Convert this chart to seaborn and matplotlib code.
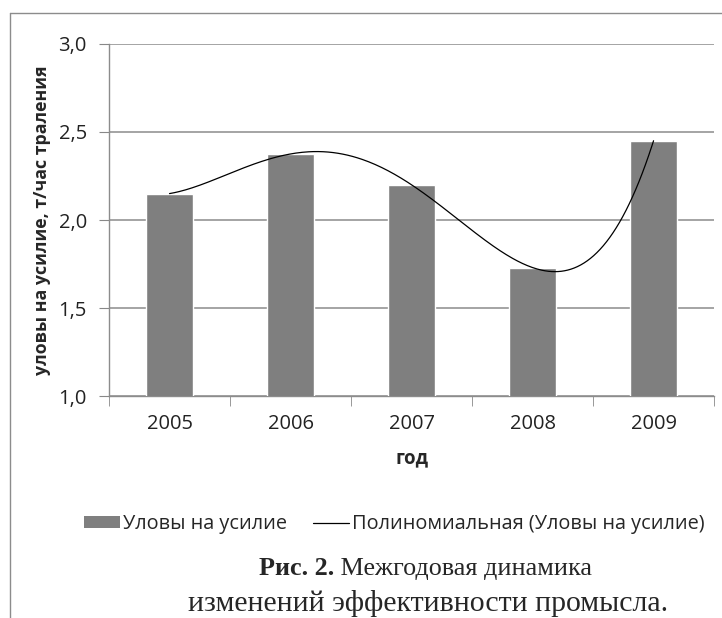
import matplotlib
matplotlib.use("Agg")
import matplotlib.pyplot as plt
import numpy as np
import pandas as pd
import seaborn as sns
from matplotlib.lines import Line2D
from matplotlib.patches import Patch

# values
years = ["2005", "2006", "2007", "2008", "2009"]
catch = [2.15, 2.375, 2.20, 1.73, 2.45]
y_ticks = [1.0, 1.5, 2.0, 2.5, 3.0]
y_labels = ["1,0", "1,5", "2,0", "2,5", "3,0"]

bar_label = "Уловы на усилие"
trend_label = "Полиномиальная (Уловы на усилие)"
ylabel = "уловы на усилие, т/час траления"
xlabel = "год"
cap_bold = "Рис. 2."
cap_line1 = " Межгодовая динамика"
cap_line2 = "изменений эффективности промысла."

sns.set_style("white")
plt.rcParams["font.family"] = ["Open Sans", "DejaVu Sans"]
serif = ["Liberation Serif", "DejaVu Serif"]

df = pd.DataFrame({"year": years, "catch": catch})

fig = plt.figure(figsize=(7.22, 6.18), dpi=100)
ax = fig.add_axes([0.151, 0.359, 0.838, 0.570])

sns.barplot(data=df, x="year", y="catch", color="#7f7f7f", saturation=1,
            width=0.39, ax=ax, zorder=3)

# Excel-style polynomial trend line (order 4) through the bar values
pos = np.arange(len(years))
coef = np.polyfit(pos, catch, 4)
xs = np.linspace(0, len(years) - 1, 300)
trend = pd.DataFrame({"x": xs, "y": np.polyval(coef, xs)})
sns.lineplot(data=trend, x="x", y="y", color="black", linewidth=0.9, ax=ax,
             zorder=4)

ax.set_ylim(1.0, 3.0)
ax.set_xlim(-0.5, len(years) - 0.5)
ax.set_yticks(y_ticks)
ax.set_yticklabels(y_labels, fontsize=14.5, color="#222222")
ax.set_xticks(pos)
ax.set_xticklabels(years, fontsize=14.5, color="#222222")
ax.tick_params(axis="x", length=0, pad=13)
ax.tick_params(axis="y", length=7, color="#888888", direction="out", left=True,
               pad=9)

# x ticks between categories
ax.set_xticks(np.arange(-0.5, len(years)), minor=True)
ax.tick_params(axis="x", which="minor", length=7, color="#888888",
               direction="out", bottom=True)

ax.yaxis.grid(True, color="#8c8c8c", linewidth=1.1, zorder=0)
ax.set_axisbelow(True)
for s in ["top", "right"]:
    ax.spines[s].set_visible(False)
for s in ["left", "bottom"]:
    ax.spines[s].set_color("#8c8c8c")
    ax.spines[s].set_linewidth(1.0)

ax.set_xlabel(xlabel, fontsize=13.5, fontweight="bold", labelpad=10)
ax.set_ylabel(ylabel, fontsize=12.8, fontweight="bold", labelpad=5)

handles = [Patch(facecolor="#7f7f7f", edgecolor="none"),
           Line2D([], [], color="black", linewidth=0.9)]
fig.legend(handles, [bar_label, trend_label], loc="center",
           bbox_to_anchor=(0.546, 0.152), ncol=2, frameon=False,
           fontsize=14.3, handlelength=1.8, handleheight=0.55,
           handletextpad=0.15, columnspacing=1.3, borderaxespad=0)

# caption, first line centred as a whole (bold part + regular part)
y1 = 0.080
t_bold = fig.text(0, y1, cap_bold, fontsize=18.8, fontweight="bold",
                  family=serif, ha="left", va="center")
t_reg = fig.text(0, y1, cap_line1, fontsize=18.8, family=serif,
                 ha="left", va="center")
fig.canvas.draw()
r = fig.canvas.get_renderer()
wb = t_bold.get_window_extent(r).width / fig.bbox.width
wr = t_reg.get_window_extent(r).width / fig.bbox.width
x0 = 0.589 - (wb + wr) / 2
t_bold.set_x(x0)
t_reg.set_x(x0 + wb)
fig.text(0.593, 0.024, cap_line2, fontsize=21.5, family=serif,
         ha="center", va="center")

# outer frame (left and top edges visible)
fig.add_artist(Line2D([10 / 722, 10 / 722], [0, 1 - 13 / 618],
                      transform=fig.transFigure, color="#8c8c8c", linewidth=1))
fig.add_artist(Line2D([10 / 722, 1], [1 - 13 / 618, 1 - 13 / 618],
                      transform=fig.transFigure, color="#8c8c8c", linewidth=1))

fig.savefig("out.png", dpi=100)
